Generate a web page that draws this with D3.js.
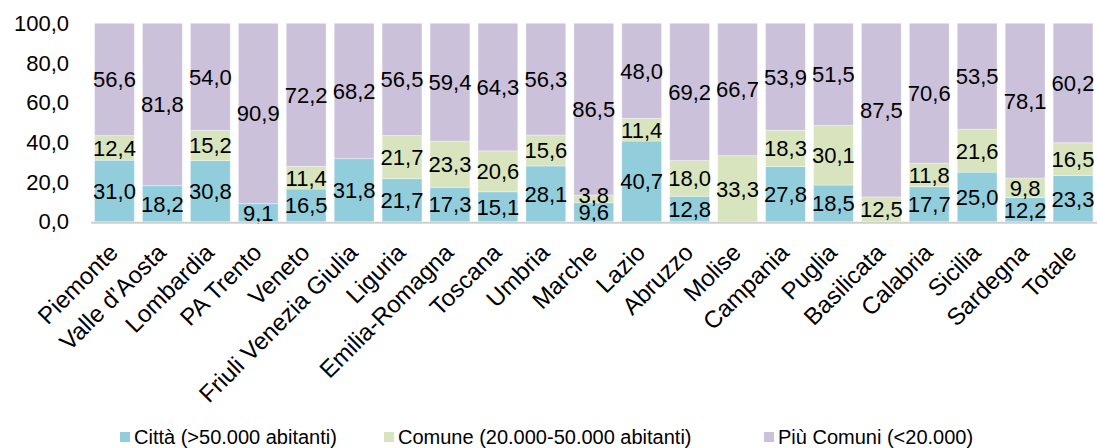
<!DOCTYPE html>
<html><head><meta charset="utf-8">
<script src="https://cdn.jsdelivr.net/npm/d3@7"></script>
<style>body{margin:0;background:#fff}svg{display:block;font-family:"Liberation Sans",Arial,sans-serif}</style>
</head><body>
<svg id="c" width="1097" height="448"></svg>
<script>
const categories = ["Piemonte","Valle d’Aosta","Lombardia","PA Trento","Veneto","Friuli Venezia Giulia","Liguria","Emilia-Romagna","Toscana","Umbria","Marche","Lazio","Abruzzo","Molise","Campania","Puglia","Basilicata","Calabria","Sicilia","Sardegna","Totale"];
const citta  = [31.0,18.2,30.8,9.1,16.5,31.8,21.7,17.3,15.1,28.1,9.6,40.7,12.8,0,27.8,18.5,0,17.7,25.0,12.2,23.3];
const comune = [12.4,0,15.2,0,11.4,0,21.7,23.3,20.6,15.6,3.8,11.4,18.0,33.3,18.3,30.1,12.5,11.8,21.6,9.8,16.5];
const piu    = [56.6,81.8,54.0,90.9,72.2,68.2,56.5,59.4,64.3,56.3,86.5,48.0,69.2,66.7,53.9,51.5,87.5,70.6,53.5,78.1,60.2];
const seriesNames = ["Città (>50.000 abitanti)","Comune (20.000-50.000 abitanti)","Più Comuni (<20.000)"];
const yTicks = [0,20,40,60,80,100];

const colors = ["#92CDDC","#D7E4BD","#CCC1DA"];
const keys = ["citta","comune","piu"];
const rows = categories.map((c,i)=>({cat:c,citta:citta[i],comune:comune[i],piu:piu[i]}));
const fmt = v => v.toFixed(1).replace(".", ",");
const FS = 22;

const svg = d3.select("#c");
const x = d3.scaleBand().domain(categories).range([90.5,1097]).paddingInner(0.17).paddingOuter(0.085);
const y = d3.scaleLinear().domain([0,100]).range([221.7,23.3]);

const stack = d3.stack().keys(keys).offset(d3.stackOffsetExpand);
const series = stack(rows);

const g = svg.append("g");
series.forEach((s,si)=>{
  g.selectAll(null).data(s).enter().append("rect")
    .attr("x",d=>x(d.data.cat))
    .attr("width",x.bandwidth())
    .attr("y",d=>y(d[1]*100))
    .attr("height",d=>y(d[0]*100)-y(d[1]*100))
    .attr("fill",colors[si])
    .attr("stroke","#ffffff").attr("stroke-opacity",0.35).attr("stroke-width",1);
});
series.forEach((s,si)=>{
  g.selectAll(null).data(s.filter(d=>d.data[keys[si]]>0)).enter().append("text")
    .attr("x",d=>x(d.data.cat)+x.bandwidth()/2)
    .attr("y",d=>y((d[0]+d[1])/2*100))
    .attr("dy",d=> (si===1 && d.data.comune<5) ? "0.2em" : "0.36em")
    .attr("text-anchor","middle")
    .attr("font-size",FS)
    .attr("fill","#000")
    .text(d=>fmt(d.data[keys[si]]));
});

svg.append("line").attr("x1",91).attr("x2",1097).attr("y1",222.7).attr("y2",222.7)
  .attr("stroke","#CFCFCF").attr("stroke-width",2);

const ya = svg.append("g").attr("transform","translate(69,0)")
  .call(d3.axisLeft(y).tickValues(yTicks).tickSize(0).tickPadding(0).tickFormat(fmt));
ya.select(".domain").remove();
ya.selectAll("text").attr("font-size",FS).attr("fill","#000").attr("font-family","Liberation Sans, Arial, sans-serif");

svg.append("g").selectAll("text").data(categories).enter().append("text")
  .attr("transform",d=>`translate(${x(d)+x.bandwidth()/2+5},254) rotate(-45)`)
  .attr("text-anchor","end")
  .attr("font-size",24)
  .attr("fill","#000")
  .text(d=>d);

const legX = [120,384,764];
const lg = svg.append("g");
seriesNames.forEach((n,i)=>{
  lg.append("rect").attr("x",legX[i]).attr("y",432).attr("width",10).attr("height",10).attr("fill",colors[i]);
  lg.append("text").attr("x",legX[i]+14).attr("y",437).attr("dy","0.36em").attr("font-size",20).attr("fill","#000").text(n);
});
</script>
</body></html>
